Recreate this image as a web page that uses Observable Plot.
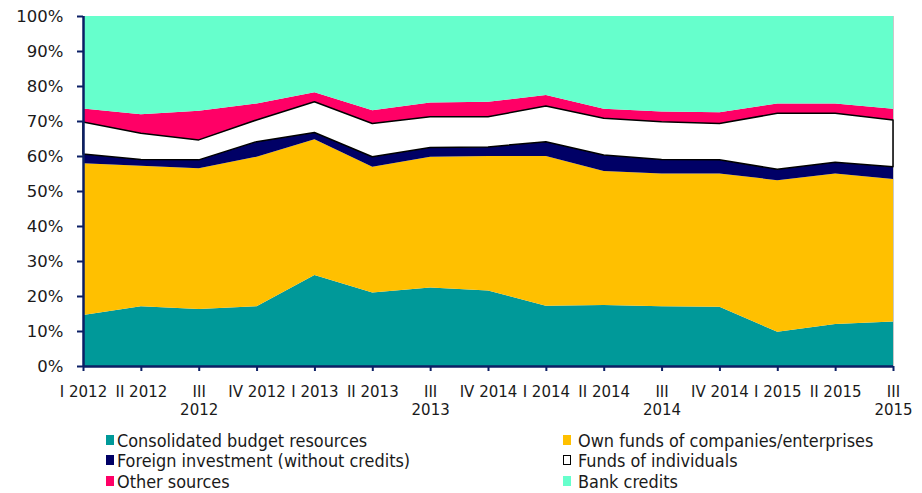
<!DOCTYPE html>
<html>
<head>
<meta charset="utf-8">
<script src="https://cdn.jsdelivr.net/npm/d3@7"></script>
<script src="https://cdn.jsdelivr.net/npm/@observablehq/plot@0.6"></script>
<style>
  html, body { margin: 0; padding: 0; background: white; }
  #wrap { width: 922px; height: 493px; position: relative; overflow: hidden; }
  #legend { position: relative; width: 922px; height: 71px; font-family: "DejaVu Sans Condensed", "DejaVu Sans", sans-serif; font-size: 17.9px; color: #1a1a1a; }
  .item { position: absolute; white-space: nowrap; line-height: 20.7px; }
  .sw { position: absolute; width: 8px; height: 10px; box-sizing: border-box; }
</style>
</head>
<body>
<div id="wrap"></div>
<script>
const tickLabels = ["I 2012","II 2012","III\n2012","IV 2012","I 2013","II 2013","III\n2013","IV 2014","I 2014","II 2014","III\n2014","IV 2014","I 2015","II 2015","III\n2015"];
const seriesNames = ["Consolidated budget resources","Own funds of companies/enterprises","Foreign investment (without credits)","Funds of individuals","Other sources","Bank credits"];
const seriesColors = ["#009999","#FFC000","#000066","#FFFFFF","#FF0066","#66FFCC"];
const budget      = [14.6,17.1,16.3,17.1,26.0,21.0,22.4,21.6,17.2,17.4,17.1,16.9, 9.8,12.0,12.7];
const ownFunds    = [43.3,40.1,40.2,42.7,38.8,35.9,37.4,38.4,42.8,38.3,37.9,38.1,43.3,43.0,40.7];
const foreign     = [ 2.7, 1.8, 2.4, 4.3, 1.9, 2.9, 2.6, 2.6, 4.1, 4.6, 4.0, 3.9, 3.1, 3.2, 3.5];
const individuals = [ 9.1, 7.5, 5.7, 6.2, 8.8, 9.5, 8.8, 8.6,10.2,10.5,10.8,10.4,16.0,14.0,13.4];
const otherSrc    = [ 3.9, 5.4, 8.3, 4.7, 2.7, 3.8, 4.1, 4.3, 3.1, 2.7, 2.9, 3.2, 2.8, 2.8, 3.2];
const bank        = [26.4,28.1,27.1,25.0,21.8,26.9,24.7,24.5,22.6,26.5,27.3,27.5,25.0,25.0,26.5];
const yTicks = [0,10,20,30,40,50,60,70,80,90,100];

const seriesValues = [budget, ownFunds, foreign, individuals, otherSrc, bank];
const table = [];
tickLabels.forEach((_, i) => {
  seriesNames.forEach((s, k) => table.push({i, series: s, value: seriesValues[k][i]}));
});

const axisColor = "#0b1f65";

const chart = Plot.plot({
  width: 922,
  height: 422,
  marginLeft: 83,
  marginRight: 29,
  marginTop: 16,
  marginBottom: 56,
  x: {type: "linear", domain: [0, tickLabels.length - 1], axis: null},
  y: {domain: [0, 100], axis: null},
  color: {domain: seriesNames, range: seriesColors},
  opacity: {domain: [0, 1], range: [0, 1]},
  style: {fontFamily: "'DejaVu Sans', sans-serif", color: "#1a1a1a", background: "white"},
  marks: [
    Plot.frame({stroke: "#c8c8c8"}),
    Plot.areaY(table, {x: "i", y: "value", z: "series", fill: "series"}),
    Plot.areaY(table, {x: "i", y: "value", z: "series", fill: "none", stroke: "black", strokeWidth: 1.5,
      strokeOpacity: d => d.series === seriesNames[3] ? 1 : 0}),
    Plot.ruleX([0], {stroke: axisColor, strokeWidth: 2.5}),
    Plot.ruleY([0], {stroke: axisColor, strokeWidth: 2.5}),
    Plot.axisY({ticks: yTicks, tickSize: 6, tickPadding: 14, tickFormat: d => d + "%", fontSize: 16.5, stroke: axisColor, strokeWidth: 2, label: null}),
    Plot.axisX({ticks: d3.range(tickLabels.length), tickSize: 5, tickPadding: 12, tickFormat: i => tickLabels[i], fontSize: 15, lineHeight: 1.23, stroke: axisColor, strokeWidth: 2, label: null})
  ]
});

const wrap = document.getElementById("wrap");
wrap.appendChild(chart);

const legend = document.createElement("div");
legend.id = "legend";
const colLeft = [106, 563];
const textLeft = [117, 578];
seriesNames.forEach((s, k) => {
  const col = k % 2, row = Math.floor(k / 2);
  const top = 8.5 + row * 20.7;
  const sw = document.createElement("span");
  sw.className = "sw";
  sw.style.left = colLeft[col] + "px";
  sw.style.top = (top + 4) + "px";
  sw.style.background = seriesColors[k];
  if (seriesColors[k] === "#FFFFFF") sw.style.border = "1.5px solid black";
  legend.appendChild(sw);
  const t = document.createElement("span");
  t.className = "item";
  t.style.left = textLeft[col] + "px";
  t.style.top = top + "px";
  t.textContent = s;
  legend.appendChild(t);
});
wrap.appendChild(legend);
</script>
</body>
</html>
